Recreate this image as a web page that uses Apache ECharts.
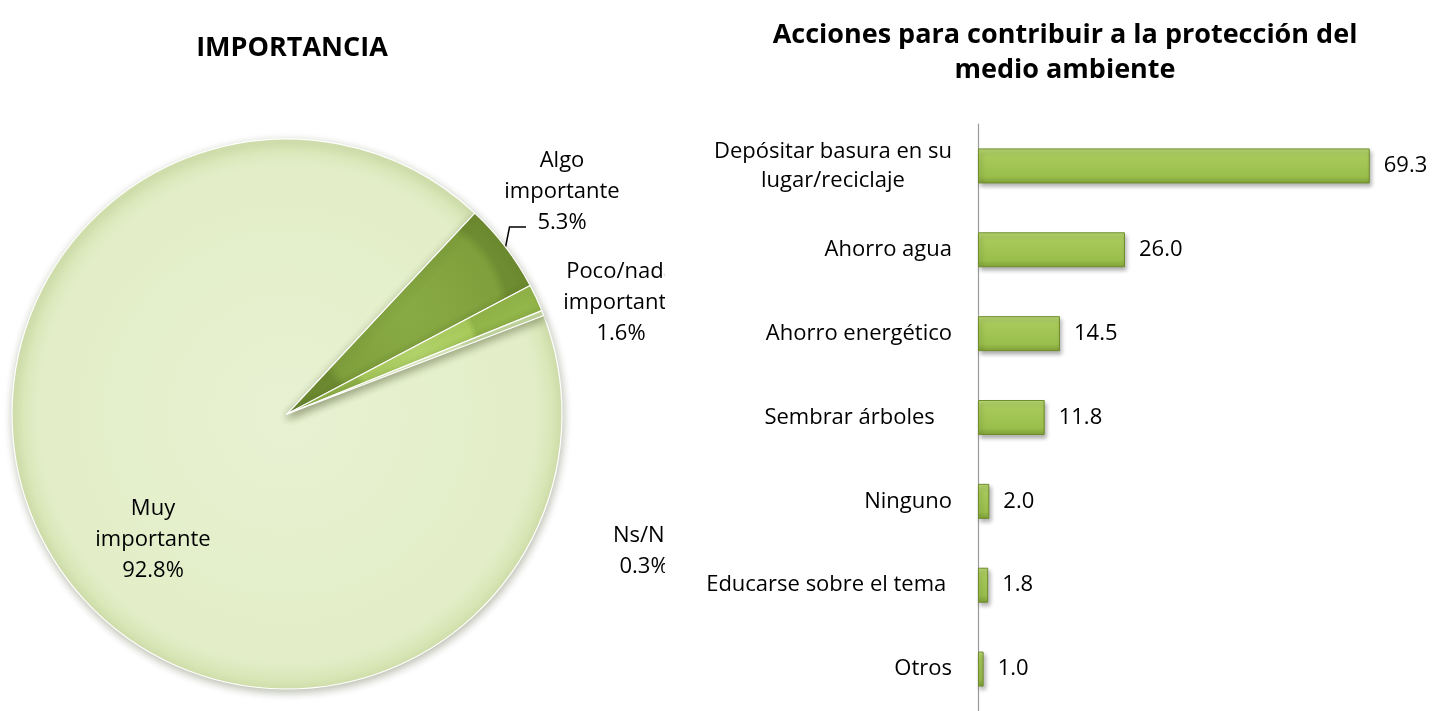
<!DOCTYPE html>
<html><head><meta charset="utf-8">
<script src="https://cdn.jsdelivr.net/npm/echarts@6/dist/echarts.min.js"></script>
<style>
html,body{margin:0;padding:0;background:#fff;width:1434px;height:711px;overflow:hidden}
#pie{position:absolute;left:0;top:0;width:665px;height:711px}
#bar{position:absolute;left:665px;top:0;width:769px;height:711px}
</style></head>
<body><div id="pie"></div><div id="bar"></div>
<script>
// ---- data ----
const pieTitle = 'IMPORTANCIA';
const pieNames = ['Muy importante', 'Algo importante', 'Poco/nada importante', 'Ns/Nc'];
const pieValues = [92.8, 5.3, 1.6, 0.3];

const barTitle = 'Acciones para contribuir a la protección del\nmedio ambiente';
const barCategories = ['Depósitar basura en su lugar/reciclaje', 'Ahorro agua', 'Ahorro energético', 'Sembrar árboles   ', 'Ninguno', 'Educarse sobre el tema ', 'Otros'];
const barValues = [69.3, 26.0, 14.5, 11.8, 2.0, 1.8, 1.0];

// ---- styling ----
const FONT = 'Open Sans';
const LABEL_SIZE = 22;
function radial(c0, c1, c2) {
  return {type: 'radial', x: 0.5, y: 0.5, r: 0.5, colorStops: [
    {offset: 0, color: c0}, {offset: 0.9, color: c1}, {offset: 1, color: c2}]};
}
const pieColors = [
  radial('#E8F1D2', '#E3EEC8', '#D3E2AE'),
  radial('#89AB45', '#7F9F3C', '#6E8C31'),
  radial('#B6D66E', '#A9CC5C', '#93B64A'),
  radial('#E0ECC2', '#D9E7B8', '#C5D8A0')
];
const pieLabelPos = [[153, 540], [562, 192], [621, 303], [644, 551]];
const LH = 31;

const pieChart = echarts.init(document.getElementById('pie'));
pieChart.setOption({
  animation: false,
  title: {text: pieTitle, left: 287, top: 30, textAlign: 'center',
    textStyle: {fontFamily: FONT, fontWeight: 'bold', fontSize: 27, color: '#000'}},
  series: [{
    type: 'pie',
    center: [287, 414],
    radius: 275,
    startAngle: 21,
    clockwise: true,
    avoidLabelOverlap: false,
    data: pieNames.map((n, i) => ({
      name: n, value: pieValues[i],
      itemStyle: {color: pieColors[i]},
      label: i === 0 ? {position: 'inside'} : {position: 'outside'},
      labelLine: {show: i === 1}
    })),
    itemStyle: {borderColor: '#ffffff', borderWidth: 1.2,
      shadowBlur: 8, shadowOffsetX: 1, shadowOffsetY: 3, shadowColor: 'rgba(60,70,30,0.35)'},
    label: {show: true, fontFamily: FONT, fontSize: LABEL_SIZE, color: '#000', lineHeight: LH, align: 'center',
      formatter: p => p.name.replace(' ', '\n') + '\n' + p.value.toFixed(1) + '%'},
    labelLine: {lineStyle: {color: '#000', width: 1.5}, length: 12, length2: 10},
    labelLayout: p => {
      const [x, y] = pieLabelPos[p.dataIndex];
      const r = {x: x, y: y, align: 'center', verticalAlign: 'middle'};
      if (p.dataIndex === 1 && p.labelLinePoints) {
        const s = p.labelLinePoints[0];
        const ey = y + LH + 4, ex = x - 36;
        r.labelLinePoints = [s, [s[0] + 4, ey], [ex, ey]];
      }
      return r;
    }
  }]
});

// first category label: two centred lines, block right-aligned to the axis
const catLines = ['Depósitar basura en su', 'lugar/reciclaje'];
const ctx = document.createElement('canvas').getContext('2d');
ctx.font = LABEL_SIZE + 'px "' + FONT + '"';
const line1W = Math.ceil(ctx.measureText(catLines[0]).width);
const yData = barCategories.map((c, i) => i === 0
  ? {value: c, textStyle: {align: 'center', padding: [0, line1W, 0, 0]}}
  : c);

const barChart = echarts.init(document.getElementById('bar'));
barChart.setOption({
  animation: false,
  title: {text: barTitle, left: 395, top: 13, textAlign: 'center',
    textStyle: {fontFamily: FONT, fontWeight: 'bold', fontSize: 27, lineHeight: 35, color: '#000'}},
  grid: {left: 313, top: 124, height: 588, width: 424},
  xAxis: {type: 'value', min: 0, max: 75, show: false},
  yAxis: {
    type: 'category', inverse: true, data: yData,
    axisTick: {show: false},
    axisLine: {lineStyle: {color: '#9A9A9A', width: 1.2}},
    axisLabel: {
      margin: 26, fontFamily: FONT, fontSize: LABEL_SIZE, color: '#000', lineHeight: 29,
      formatter: (v, i) => i === 0 ? catLines.join('\n') : v
    }
  },
  series: [{
    type: 'bar', data: barValues, barWidth: 35,
    itemStyle: {
      color: {type: 'linear', x: 0, y: 0, x2: 0, y2: 1, colorStops: [
        {offset: 0, color: '#B8D774'}, {offset: 0.2, color: '#A8CA5B'},
        {offset: 0.8, color: '#9ABE4C'}, {offset: 1, color: '#7E9F37'}]},
      borderColor: '#6F8D2D', borderWidth: 1,
      shadowBlur: 4, shadowOffsetX: 2, shadowOffsetY: 3, shadowColor: 'rgba(0,0,0,0.3)'
    },
    label: {show: true, position: 'right', distance: 14, fontFamily: FONT, fontSize: LABEL_SIZE, color: '#000',
      formatter: p => p.value.toFixed(1)}
  }]
});
</script>
</body></html>
